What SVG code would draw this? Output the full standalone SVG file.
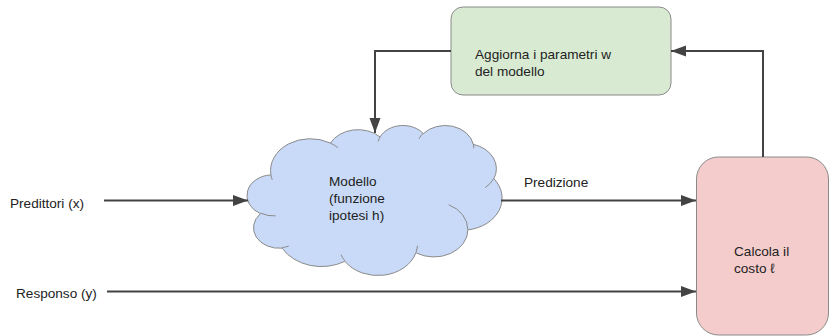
<svg xmlns="http://www.w3.org/2000/svg" width="829" height="336" viewBox="0 0 829 336">
<style>
text{font-family:"Liberation Sans",Arial,sans-serif;font-size:13.6px;fill:#222}
.edge{fill:none;stroke:#434343;stroke-width:2}
.shape{stroke:#8a8a8a;stroke-width:1}
.inner{fill:none;stroke:#8a8a8a;stroke-width:1}
</style>
<defs>
<marker id="ah" markerUnits="userSpaceOnUse" markerWidth="16" markerHeight="12" viewBox="0 0 16 12" refX="15" refY="6" orient="auto">
<path d="M0,0.5 L15,6 L0,11.5 Z" fill="#434343"/>
</marker>
</defs>
<rect width="829" height="336" fill="#fff"/>
<g id="update">
<rect class="shape" x="451" y="7" width="220" height="88" rx="12" fill="#d9ead3"/>
<text x="475" y="58.5">Aggiorna i parametri w</text>
<text x="475" y="75.5">del modello</text>
</g>
<g id="model">
<path class="shape" fill="#c9daf8" d="M270.93,174.90 A39.70,31.91 0 0 1 330.34,143.07 A31.36,25.23 0 0 1 380.03,136.91 A25.66,20.64 0 0 1 423.40,133.60 A28.56,22.90 0 0 1 473.29,144.35 A31.36,25.25 0 0 1 493.87,178.67 A39.83,32.01 0 0 1 467.91,229.85 A34.01,27.32 0 0 1 415.89,252.81 A39.70,32.00 0 0 1 344.89,261.32 A45.39,36.61 0 0 1 282.11,248.14 A25.63,20.55 0 0 1 260.41,213.68 A25.55,20.64 0 0 1 270.93,174.90 Z"/>
<path class="inner" d="M275.59,215.89 A25.55,20.64 0 0 1 260.70,213.12 M288.73,246.18 A25.63,20.55 0 0 1 282.22,247.50 M344.88,260.73 A39.70,32.00 0 0 1 340.95,254.68 M417.49,245.66 A39.70,32.00 0 0 1 415.92,252.30 M448.67,204.70 A34.01,27.32 0 0 1 467.78,229.48 M493.76,178.31 A31.36,25.25 0 0 1 485.24,187.61 M473.33,143.84 A28.56,22.90 0 0 1 473.78,148.23 M418.97,138.72 A28.56,22.90 0 0 1 423.33,133.13 M378.18,141.39 A25.66,20.64 0 0 1 380.29,136.56 M330.31,143.03 A39.70,31.91 0 0 1 337.95,147.71 M272.27,179.82 A39.70,31.91 0 0 1 270.93,174.90"/>
<text x="329" y="186">Modello</text>
<text x="329" y="203">(funzione</text>
<text x="329" y="220">ipotesi h)</text>
</g>
<g id="cost">
<rect class="shape" x="696.5" y="157" width="132" height="178" rx="22" fill="#f4cccc"/>
<text x="734" y="255.5">Calcola il</text>
<text x="734" y="272.5">costo ℓ</text>
</g>
<g id="label-x"><text x="10" y="207.5">Predittori (x)</text></g>
<g id="label-y"><text x="16" y="298">Responso (y)</text></g>
<g id="connectors">
<path class="edge" d="M104,200.5 L248,200.5" marker-end="url(#ah)"/>
<path class="edge" d="M501,200.5 L696,200.5" marker-end="url(#ah)"/>
<text x="524" y="186.5">Predizione</text>
<path class="edge" d="M107,291.5 L696,291.5" marker-end="url(#ah)"/>
<path class="edge" d="M763,157 L763,51 L671,51" marker-end="url(#ah)"/>
<path class="edge" d="M451,51 L375,51 L375,133" marker-end="url(#ah)"/>
</g>
</svg>
